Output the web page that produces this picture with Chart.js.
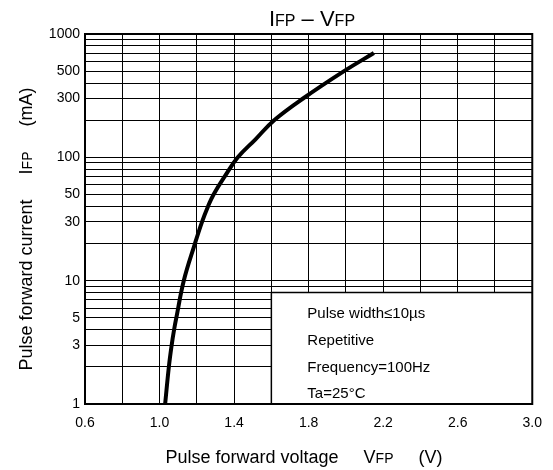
<!DOCTYPE html>
<html>
<head>
<meta charset="utf-8">
<script src="https://cdn.jsdelivr.net/npm/chart.js@4"></script>
<style>
  body { margin: 0; background: #fff; }
  #wrap { width: 553px; height: 470px; }
</style>
</head>
<body>
<div id="wrap"><canvas id="chart"></canvas></div>
<script>
// IFP - VFP curve
const vfp = [1.03, 1.05, 1.065, 1.078, 1.09, 1.13, 1.19, 1.228, 1.26, 1.29, 1.35, 1.42, 1.515, 1.615, 1.77, 1.99, 2.15];
const ifp = [1, 2, 3, 4, 5, 10, 20, 30, 40, 50, 70, 100, 140, 200, 300, 500, 701];

const xTickLabels = [0.6, 1.0, 1.4, 1.8, 2.2, 2.6, 3.0];
const yTickLabels = [1, 3, 5, 10, 30, 50, 100, 300, 500, 1000];
const noteLines = ['Pulse width\u226410\u00b5s', 'Repetitive', 'Frequency=100Hz', 'Ta=25\u00b0C'];

const FONT = '"Liberation Sans", Arial, sans-serif';

// grid positions: every 0.2 V, and 1..9 per decade
let xGrid = [];
for (let k = 6; k <= 30; k += 2) xGrid.push(k / 10);
let yGrid = [];
for (let e = 0; e < 3; e++) {
    for (let s = 1; s < 10; s++) yGrid.push(s * Math.pow(10, e));
}
yGrid.push(1000);

// draws text where part of it is small (e.g. I + FP)
function drawMixed(ctx, parts, x, y, align) {
    let total = 0;
    for (const p of parts) {
        ctx.font = p.size + 'px ' + FONT;
        total += ctx.measureText(p.t).width;
    }
    let cx = align === 'center' ? x - total / 2 : x;
    ctx.textAlign = 'left';
    ctx.textBaseline = 'alphabetic';
    for (const p of parts) {
        ctx.font = p.size + 'px ' + FONT;
        ctx.fillText(p.t, cx, y);
        cx += ctx.measureText(p.t).width;
    }
}

const extras = {
    id: 'extras',
    beforeDatasetsDraw(chart) {
        const {ctx, chartArea: a, scales: {x, y}} = chart;
        ctx.save();
        // note box in the lower right
        const bx = x.getPixelForValue(1.6);
        const by = y.getPixelForValue(8);
        ctx.fillStyle = '#fff';
        ctx.fillRect(bx, by, a.right - bx, a.bottom - by);
        ctx.strokeStyle = '#000';
        ctx.lineWidth = 1.5;
        ctx.beginPath();
        ctx.moveTo(bx, a.bottom);
        ctx.lineTo(bx, by);
        ctx.lineTo(a.right, by);
        ctx.stroke();
        ctx.fillStyle = '#000';
        ctx.font = '15px ' + FONT;
        ctx.textAlign = 'left';
        ctx.textBaseline = 'middle';
        noteLines.forEach((t, i) => ctx.fillText(t, bx + 36, 314 + i * 26.7));
        // frame
        ctx.lineWidth = 2;
        ctx.strokeRect(a.left, a.top, a.right - a.left, a.bottom - a.top);
        ctx.restore();
    },
    afterDraw(chart) {
        const {ctx} = chart;
        ctx.save();
        ctx.fillStyle = '#000';
        drawMixed(ctx, [
            {t: 'I', size: 22}, {t: 'FP', size: 16}, {t: ' \u2013 ', size: 22},
            {t: 'V', size: 22}, {t: 'FP', size: 16}
        ], 312, 26, 'center');
        drawMixed(ctx, [
            {t: 'Pulse forward voltage     V', size: 18}, {t: 'FP', size: 14},
            {t: '     (V)', size: 18}
        ], 304, 463, 'center');
        ctx.translate(32, 229);
        ctx.rotate(-Math.PI / 2);
        drawMixed(ctx, [
            {t: 'Pulse forward current     I', size: 18}, {t: 'FP', size: 14},
            {t: '     (mA)', size: 18}
        ], 0, 0, 'center');
        ctx.restore();
    }
};

const config = {
    type: 'line',
    data: {
        datasets: [{
            data: vfp.map((v, i) => ({x: v, y: ifp[i]})),
            borderColor: '#000',
            borderWidth: 4,
            pointRadius: 0,
            tension: 0.4,
            fill: false
        }]
    },
    options: {
        responsive: true,
        maintainAspectRatio: false,
        animation: false,
        layout: {padding: {top: 34, right: 19, left: 0, bottom: 0}},
        plugins: {
            legend: {display: false},
            tooltip: {enabled: false}
        },
        scales: {
            x: {
                type: 'linear',
                min: 0.6,
                max: 3.0,
                afterBuildTicks: s => { s.ticks = xGrid.map(v => ({value: v})); },
                afterFit: s => { s.height = 66; },
                grid: {color: '#000', lineWidth: 1, drawTicks: false},
                border: {display: true, color: '#000', width: 2},
                ticks: {
                    autoSkip: false,
                    maxRotation: 0,
                    padding: 11,
                    color: '#000',
                    font: {family: FONT, size: 14},
                    callback: v => {
                        const hit = xTickLabels.find(t => Math.abs(t - v) < 1e-6);
                        return hit === undefined ? '' : hit.toFixed(1);
                    }
                }
            },
            y: {
                type: 'logarithmic',
                min: 1,
                max: 1000,
                afterBuildTicks: s => { s.ticks = yGrid.map(v => ({value: v})); },
                afterFit: s => { s.width = 85; },
                grid: {color: '#000', lineWidth: 1, drawTicks: false},
                border: {display: true, color: '#000', width: 2},
                ticks: {
                    autoSkip: false,
                    padding: 5,
                    color: '#000',
                    font: {family: FONT, size: 14},
                    callback: v => yTickLabels.includes(v) ? String(v) : ''
                }
            }
        }
    },
    plugins: [extras]
};

const ivChart = new Chart(document.getElementById('chart'), config);
</script>
</body>
</html>
